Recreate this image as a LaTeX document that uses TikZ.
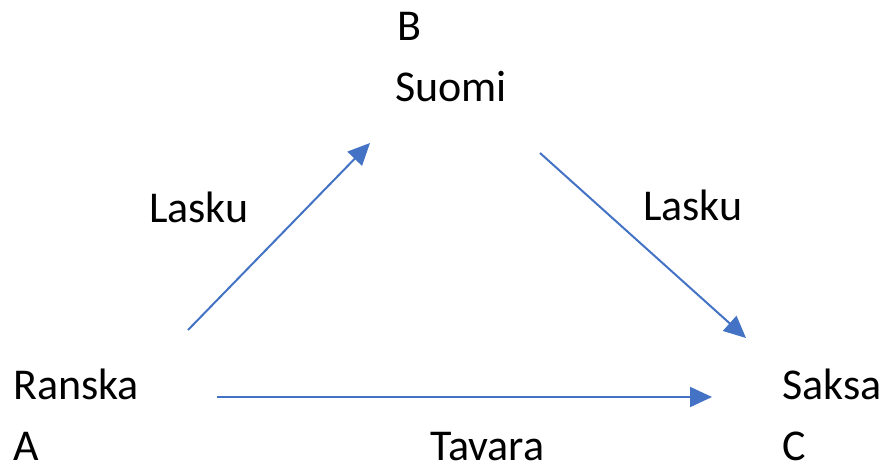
\documentclass[tikz,border=0pt]{standalone}
\usepackage{fontspec}
\setmainfont{Carlito}
\usetikzlibrary{arrows.meta}
\definecolor{arrowblue}{HTML}{4472C4}
\tikzset{
  lbl/.style={anchor=base west, inner sep=0pt, font=\fontsize{44}{44}\selectfont, text=black},
  flow/.style={draw=arrowblue, line width=2pt, -{Triangle[length=22pt,width=20pt]}, arrowblue}
}
\begin{document}
\begin{tikzpicture}[x=1pt,y=-1pt]
  \useasboundingbox[fill=white] (0,0) rectangle (883,466);
  % country labels
  \node[lbl] (b)      at (397,40)  {B};
  \node[lbl] (suomi)  at (395,101) {Suomi};
  \node[lbl] (ranska) at (13,399)  {Ranska};
  \node[lbl] (a)      at (13,460)  {A};
  \node[lbl] (saksa)  at (782,399) {Saksa};
  \node[lbl] (c)      at (782,460) {C};
  % flow labels
  \node[lbl] (lasku1) at (149,222) {Lasku};
  \node[lbl] (lasku2) at (643,220) {Lasku};
  \node[lbl] (tavara) at (430,460) {Tavara};
  % arrow end points
  \coordinate (ab0) at (188,330);
  \coordinate (ab1) at (370,143);
  \coordinate (bc0) at (540,153);
  \coordinate (bc1) at (746,338);
  \coordinate (ac0) at (217,397);
  \coordinate (ac1) at (712,397);
  \draw[flow] (ab0) -- (ab1);
  \draw[flow] (bc0) -- (bc1);
  \draw[flow] (ac0) -- (ac1);
\end{tikzpicture}
\end{document}
